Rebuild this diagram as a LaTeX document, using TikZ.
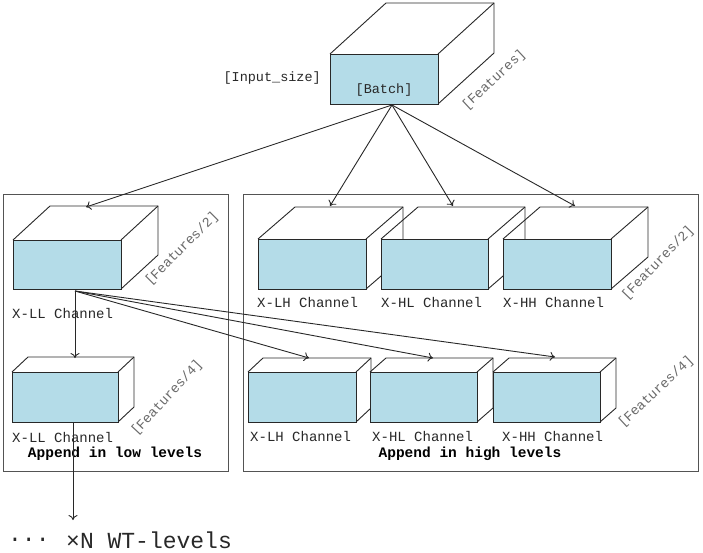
\documentclass[tikz,border=0pt]{standalone}
\usepackage{fontspec}
\setmonofont{Liberation Mono}
\usetikzlibrary{arrows.meta}
\definecolor{cubeblue}{RGB}{180,220,232}
\definecolor{ink}{RGB}{40,40,40}
\newcommand\mycube[7]{% name, x, y, w, h, dx, dy
  \draw[cubeline] (#2,#3) -- ++(#6,-#7) -- ++(#4,0) -- ++(0,#5) -- ++(-#6,#7);
  \draw[cubeline] (#2+#4,#3) -- ++(#6,-#7);
  \node[front, minimum width=#4pt, minimum height=#5pt, anchor=north west] (#1) at (#2,#3) {};
}
\begin{document}
\begin{tikzpicture}[x=1pt,y=-1pt,
  cubeline/.style={draw=ink, line width=0.9pt},
  front/.style={draw=ink, line width=0.9pt, fill=cubeblue, inner sep=0pt, outer sep=0pt},
  lbl/.style={text=ink, font=\ttfamily\fontsize{13.5}{16}\selectfont, inner sep=0pt},
  chl/.style={text=ink, font=\ttfamily\fontsize{14}{16}\selectfont, inner sep=0pt},
  rlbl/.style={lbl, text=ink!70},
  boldlbl/.style={text=black, font=\ttfamily\bfseries\fontsize{14.5}{17}\selectfont, inner sep=0pt},
  bigl/.style={text=ink, font=\ttfamily\fontsize{23}{27}\selectfont, inner sep=0pt},
  conn/.style={draw=ink, line width=0.9pt, -{To[length=5pt,width=9pt]}},
  panel/.style={draw=ink!80, line width=0.9pt}]
\useasboundingbox (0,0) rectangle (703,553);
\fill[white] (0,0) rectangle (703,553);

% panels
\draw[panel] (3,194) rectangle (228,471);
\draw[panel] (243,194) rectangle (698,471);

% main cube
\mycube{main}{330}{54}{108}{50}{56}{51}
\node[lbl, anchor=east] (insz) at (321,78) {[Input\_size]};
\node[lbl] (batch) at (384,90) {[Batch]};
\node[rlbl, rotate=43] (feat) at (494,80) {[Features]};

% upper row
\mycube{LL}{13}{240}{108}{49}{37}{34}
\mycube{LH}{258}{239}{108}{50}{37}{32}
\mycube{HL}{381}{239}{107}{50}{37}{32}
\mycube{HH}{503}{239}{108}{50}{37}{32}

% lower row
\mycube{LLb}{12}{372}{106}{50}{16}{15}
\mycube{LHb}{248}{372}{108}{50}{15}{14}
\mycube{HLb}{370}{372}{107}{50}{16}{14}
\mycube{HHb}{493}{372}{107}{50}{16}{14}

% labels
\node[chl, anchor=west] (lLL) at (12,313) {X-LL Channel};
\node[chl, anchor=west] (lLLb) at (12,437) {X-LL Channel};
\node[chl, anchor=west] (lLH) at (257,302) {X-LH Channel};
\node[chl, anchor=west] (lHL) at (381,302) {X-HL Channel};
\node[chl, anchor=west] (lHH) at (503,302) {X-HH Channel};
\node[chl, anchor=west] (lLHb) at (250,436) {X-LH Channel};
\node[chl, anchor=west] (lHLb) at (372,436) {X-HL Channel};
\node[chl, anchor=west] (lHHb) at (502,436) {X-HH Channel};

\node[rlbl, rotate=45] (f2a) at (182,249) {[Features/2]};
\node[rlbl, rotate=47] (f4a) at (167,398) {[Features/4]};
\node[rlbl, rotate=46] (f2b) at (658,263) {[Features/2]};
\node[rlbl, rotate=43] (f4b) at (656,392) {[Features/4]};

\node[boldlbl] (applow) at (115,454) {Append in low levels};
\node[boldlbl] (apphigh) at (470,454) {Append in high levels};

% connectors
\coordinate (src) at (392,105);
\coordinate (tLL) at (86,207);
\coordinate (tLH) at (330,206);
\coordinate (tHL) at (453,206);
\coordinate (tHH) at (575,206);
\draw[conn] (src) -- (tLL);
\draw[conn] (src) -- (tLH);
\draw[conn] (src) -- (tHL);
\draw[conn] (src) -- (tHH);

\coordinate (srcLL) at (75,291);
\coordinate (tLLb) at (75,358);
\coordinate (tLHb) at (309,358);
\coordinate (tHLb) at (433,358);
\coordinate (tHHb) at (555,357);
\draw[conn] (srcLL) -- (tLLb);
\draw[conn] (srcLL) -- (tLHb);
\draw[conn] (srcLL) -- (tHLb);
\draw[conn] (srcLL) -- (tHHb);

\coordinate (srcLLb) at (73,422);
\coordinate (wt) at (73,520);
\draw[conn] (srcLLb) -- (wt);

\node[bigl, anchor=west] (dots) at (8,540) {...};
\node[bigl, anchor=west] (wtl) at (66,540) {×N WT-levels};
\end{tikzpicture}
\end{document}
